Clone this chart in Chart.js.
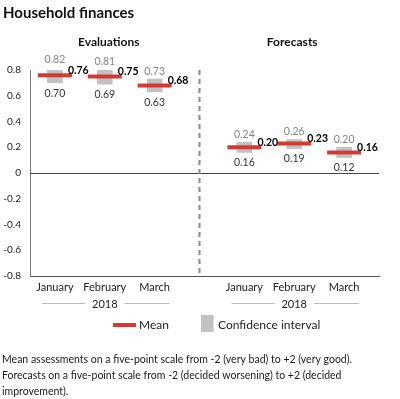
<!DOCTYPE html>
<html>
<head>
<meta charset="utf-8">
<script src="https://cdn.jsdelivr.net/npm/chart.js@4.4.0/dist/chart.umd.min.js"></script>
<style>
  body { margin: 0; background: #fff; }
</style>
</head>
<body>
<canvas id="myChart" width="400" height="399"></canvas>
<script>
const groups = ['Evaluations', 'Forecasts'];
const months = ['January', 'February', 'March'];
const yearLabel = '2018';
const yMin = -0.8, yMax = 0.8, yStep = 0.2;

const evalMean = [0.76, 0.75, 0.68];
const evalLow  = [0.70, 0.69, 0.63];
const evalHigh = [0.82, 0.81, 0.73];

const foreMean = [0.20, 0.23, 0.16];
const foreLow  = [0.16, 0.19, 0.12];
const foreHigh = [0.24, 0.26, 0.20];

const footnote = [
  'Mean assessments on a five-point scale from -2 (very bad) to +2 (very good).',
  'Forecasts on a five-point scale from -2 (decided worsening) to +2 (decided',
  'improvement).'
];

// x position of month i in group g (gap between the two panels)
const xOf = (g, i) => g * 3.8 + i + 0.5;

const means = [evalMean, foreMean];
const lows = [evalLow, foreLow];
const highs = [evalHigh, foreHigh];

const ciData = [];
const meanData = [];
const xTicks = [];
const xTickLabels = [];
groups.forEach((g, gi) => {
  months.forEach((m, i) => {
    ciData.push({ x: xOf(gi, i), y: [lows[gi][i], highs[gi][i]] });
    meanData.push({ x: xOf(gi, i), y: means[gi][i] });
    xTicks.push(xOf(gi, i));
    xTickLabels.push(m);
  });
});

const RED = '#d23a35';
const GREY = '#c2c2c2';
const FONT = 'Lato';
Chart.defaults.font.family = FONT;
Chart.defaults.color = '#222';

const isZero = v => Math.abs(v) < 1e-9;

const labelsPlugin = {
  id: 'labels',
  beforeDatasetsDraw(chart) {
    const { ctx, chartArea, scales: { x } } = chart;
    const px = x.getPixelForValue(3.4);
    ctx.save();
    ctx.strokeStyle = '#8a8a8a';
    ctx.lineWidth = 2;
    ctx.setLineDash([5, 4]);
    ctx.beginPath();
    ctx.moveTo(px, chartArea.top);
    ctx.lineTo(px, chartArea.bottom);
    ctx.stroke();
    ctx.restore();
  },
  afterDraw(chart) {
    const { ctx, chartArea, scales: { x, y } } = chart;
    ctx.save();

    // title
    ctx.fillStyle = '#111';
    ctx.textBaseline = 'middle';
    ctx.textAlign = 'left';
    ctx.font = `bold 15px ${FONT}`;
    ctx.fillText('Household finances', 3, 13);

    groups.forEach((g, gi) => {
      const first = x.getPixelForValue(xOf(gi, 0));
      const mid = x.getPixelForValue(xOf(gi, 1));
      const last = x.getPixelForValue(xOf(gi, 2));

      // panel title
      ctx.font = `bold 12px ${FONT}`;
      ctx.fillStyle = '#111';
      ctx.textAlign = 'center';
      ctx.fillText(g, mid + (gi === 0 ? 4 : -2), 42);

      // year with side lines
      ctx.font = `11px ${FONT}`;
      ctx.fillStyle = '#222';
      ctx.fillText(yearLabel, mid, 304);
      const tw = ctx.measureText(yearLabel).width / 2 + 7;
      ctx.strokeStyle = '#bdbdbd';
      ctx.lineWidth = 1;
      ctx.beginPath();
      ctx.moveTo(first - 13, 303.5);
      ctx.lineTo(mid - tw, 303.5);
      ctx.moveTo(mid + tw, 303.5);
      ctx.lineTo(last + 15, 303.5);
      ctx.stroke();

      // value labels
      months.forEach((m, i) => {
        const cx = x.getPixelForValue(xOf(gi, i));
        ctx.textAlign = 'center';
        ctx.font = `10.5px ${FONT}`;
        ctx.fillStyle = '#858585';
        ctx.fillText(highs[gi][i].toFixed(2), cx, y.getPixelForValue(highs[gi][i]) - 7.5);
        ctx.fillStyle = '#333';
        ctx.fillText(lows[gi][i].toFixed(2), cx, y.getPixelForValue(lows[gi][i]) + 10.5);
        ctx.textAlign = 'left';
        ctx.font = `bold 10.5px ${FONT}`;
        ctx.fillStyle = '#000';
        ctx.fillText(means[gi][i].toFixed(2), cx + 13, y.getPixelForValue(means[gi][i]) - 5);
      });
    });

    // legend
    ctx.strokeStyle = RED;
    ctx.lineWidth = 4;
    ctx.beginPath();
    ctx.moveTo(113, 325);
    ctx.lineTo(136, 325);
    ctx.stroke();
    ctx.fillStyle = GREY;
    ctx.fillRect(201, 315, 12.5, 17);
    ctx.font = `12px ${FONT}`;
    ctx.fillStyle = '#222';
    ctx.textAlign = 'left';
    ctx.fillText('Mean', 139, 325);
    ctx.fillText('Confidence interval', 218, 325);

    // footnote
    ctx.font = `10.5px ${FONT}`;
    ctx.fillStyle = '#1a1a1a';
    footnote.forEach((line, i) => ctx.fillText(line, 2, 360 + i * 16));

    ctx.restore();
  }
};

new Chart(document.getElementById('myChart'), {
  type: 'bar',
  data: {
    datasets: [
      {
        type: 'line',
        label: 'Mean',
        data: meanData,
        showLine: false,
        pointStyle: 'line',
        pointRadius: 17,
        pointHoverRadius: 17,
        pointBorderWidth: 4,
        pointBorderColor: RED,
        borderColor: RED,
        order: 0
      },
      {
        label: 'Confidence interval',
        data: ciData,
        backgroundColor: GREY,
        barThickness: 15,
        borderSkipped: false,
        order: 1
      }
    ]
  },
  options: {
    responsive: false,
    animation: false,
    layout: { padding: { top: 70, right: 7, bottom: 103, left: 0 } },
    plugins: {
      legend: { display: false },
      tooltip: { enabled: false }
    },
    scales: {
      x: {
        type: 'linear',
        min: 0,
        max: 7,
        offset: false,
        grid: { display: false, drawTicks: false },
        border: { display: true, color: '#555', width: 1 },
        afterBuildTicks: scale => { scale.ticks = xTicks.map(v => ({ value: v })); },
        afterFit: scale => { scale.height = 20; },
        ticks: {
          padding: 5,
          autoSkip: false,
          maxRotation: 0,
          font: { size: 11 },
          color: '#222',
          callback: (v, i) => xTickLabels[i]
        }
      },
      y: {
        min: yMin,
        max: yMax,
        grid: {
          drawTicks: false,
          color: c => isZero(c.tick.value) ? '#444' : 'rgba(0,0,0,0)',
          lineWidth: 1
        },
        border: { display: true, color: '#777', width: 1 },
        afterFit: scale => { scale.width = 30; },
        ticks: {
          stepSize: yStep,
          padding: 9,
          font: { size: 10 },
          color: '#222',
          callback: v => isZero(v) ? '0' : v.toFixed(1)
        }
      }
    }
  },
  plugins: [labelsPlugin]
});
</script>
</body>
</html>
